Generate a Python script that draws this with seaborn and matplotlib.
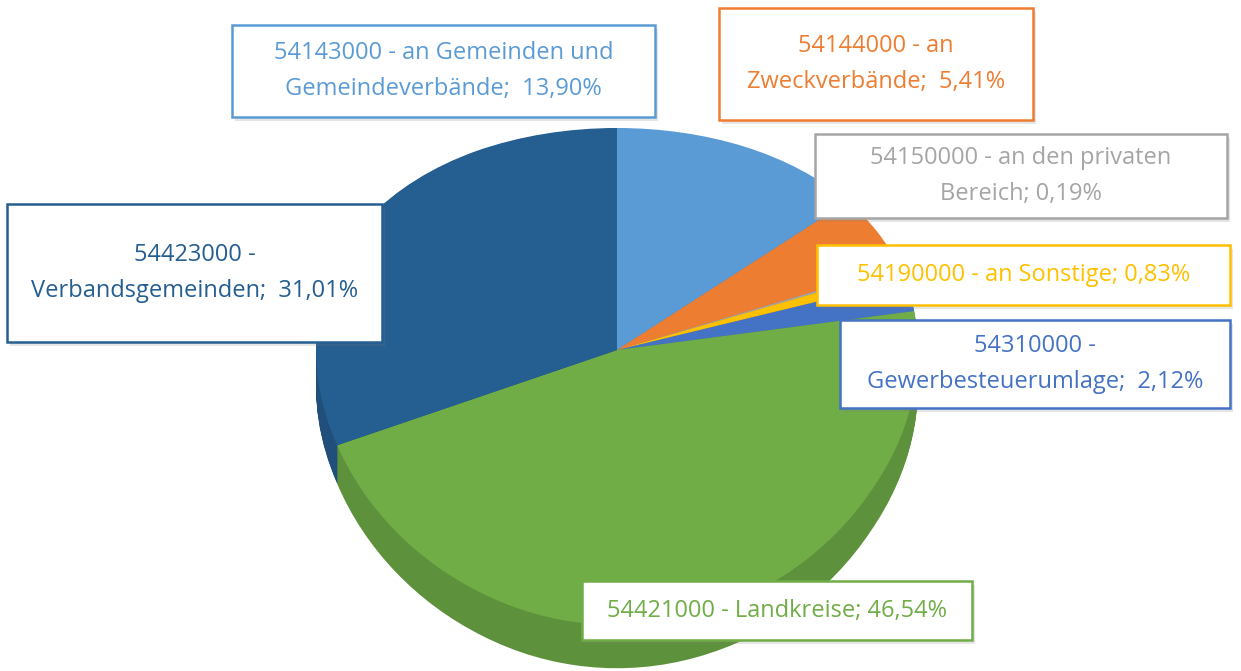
#Importing the necessary libraries
import numpy as np
import matplotlib
matplotlib.use('Agg')
import matplotlib.pyplot as plt
import matplotlib.patheffects as pe
from matplotlib.patches import Rectangle
import seaborn as sns


#Chart data
codes = ['54143000', '54144000', '54150000', '54190000', '54310000', '54421000', '54423000']
shares = [13.90, 5.41, 0.19, 0.83, 2.12, 46.54, 31.01]
label_texts = [
    '54143000 - an Gemeinden und\nGemeindeverbände;  13,90%',
    '54144000 - an\nZweckverbände;  5,41%',
    '54150000 - an den privaten\nBereich; 0,19%',
    '54190000 - an Sonstige; 0,83%',
    '54310000 -\nGewerbesteuerumlage;  2,12%',
    '54421000 - Landkreise; 46,54%',
    '54423000 -\nVerbandsgemeinden;  31,01%',
]
slice_colors = ['#5B9BD5', '#ED7D31', '#A5A5A5', '#FFC000', '#4472C4', '#70AD47', '#255E91']

sns.set_theme(style='white')
plt.rcParams['font.family'] = ['Open Sans', 'DejaVu Sans']

W, H = 1241, 671
fig = plt.figure(figsize=(W / 100, H / 100), dpi=100)
ax = fig.add_axes([0, 0, 1, 1])

# tilted (perspective-ish) y scale: near half of the pie looks bigger
A, B = 248.5, 26.5
def fwd(y):
    return A * y - B * y ** 2
def inv(s):
    return (A - np.sqrt(np.maximum(A * A - 4 * B * s, 0))) / (2 * B)
ax.set_yscale('function', functions=(fwd, inv))

# side of the 3D pie: stacked darker copies
side_colors = [tuple(c * 0.84 for c in matplotlib.colors.to_rgb(col)) for col in slice_colors]
depth = 0.1415
n_layers = 40
for k in range(n_layers):
    dy = depth * (1 - k / n_layers)
    ax.pie(shares, colors=side_colors, startangle=90, counterclock=False,
           center=(0, -dy), radius=1, wedgeprops=dict(linewidth=0))

# top face
ax.pie(shares, colors=slice_colors, startangle=90, counterclock=False,
       center=(0, 0), radius=1, wedgeprops=dict(linewidth=0))

ax.set_aspect('auto')
cx, rx, apex_y = 617, 301, 350
ax.set_xlim(-cx / rx, (W - cx) / rx)
ax.set_ylim(inv(apex_y - H), inv(apex_y))
ax.axis('off')

# label boxes
ax2 = fig.add_axes([0, 0, 1, 1])
ax2.set_xlim(0, W)
ax2.set_ylim(H, 0)
ax2.axis('off')
ax2.patch.set_alpha(0)

box_x = [232, 719, 815, 817, 840, 582, 7]
box_y = [25, 8, 134, 245, 320, 581, 204]
box_w = [423, 314, 412, 413, 390, 390, 375]
box_h = [92, 112, 84, 60, 88, 59, 138]

for i, txt in enumerate(label_texts):
    rect = Rectangle((box_x[i], box_y[i]), box_w[i], box_h[i], facecolor='white',
                     edgecolor=slice_colors[i], linewidth=1.8)
    rect.set_path_effects([pe.SimplePatchShadow(offset=(2, -3), shadow_rgbFace='#7f7f7f', alpha=0.2),
                           pe.Normal()])
    ax2.add_patch(rect)
    ax2.text(box_x[i] + box_w[i] / 2, box_y[i] + box_h[i] / 2, txt, ha='center', va='center',
             color=slice_colors[i], fontsize=17, linespacing=1.7)

plt.savefig('out.png', dpi=100)
